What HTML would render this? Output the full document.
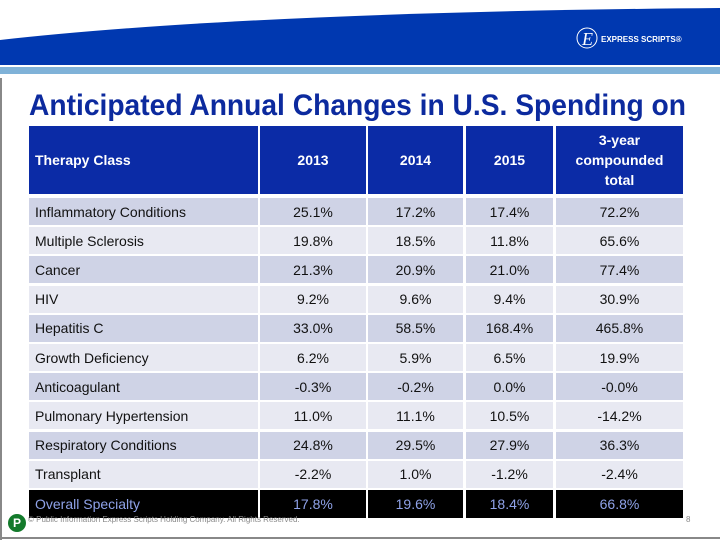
<!DOCTYPE html>
<html><head><meta charset="utf-8"><style>
body{margin:0;width:720px;height:540px;overflow:hidden;background:#fff;font-family:"Liberation Sans",sans-serif;position:relative}
.c{position:absolute;box-sizing:border-box;font-size:14px;color:#111;display:flex;align-items:center;white-space:nowrap}
.n{justify-content:center}
.h{background:#0b2ba6;color:#fff;font-weight:bold;font-size:14px;text-align:center;justify-content:center;white-space:normal;line-height:20px}
</style></head><body>
<svg width="720" height="80" style="position:absolute;left:0;top:0">
<path d="M0 40 Q250 12 720 8 L720 65 L0 65 Z" fill="#0038b0"/>
<rect x="0" y="67" width="720" height="7" fill="#7fb2d8"/>
<circle cx="587" cy="38" r="10" fill="none" stroke="#fff" stroke-width="1"/>
<text x="582" y="45" fill="#fff" font-size="18" font-style="italic" font-family="Liberation Serif">E</text>
<text x="601" y="42" fill="#fff" font-size="8" font-weight="bold">EXPRESS SCRIPTS®</text>
</svg>
<div style="position:absolute;left:0;top:78px;width:2px;height:462px;background:#888"></div>
<div style="position:absolute;left:0;top:537px;width:720px;height:2px;background:#888"></div>
<div style="position:absolute;left:29px;top:88px;font-size:30px;font-weight:bold;color:#0c2a9e;white-space:nowrap;line-height:36px;transform-origin:0 0;transform:scaleX(0.94)">Anticipated Annual Changes in U.S. Spending on</div>
<div id="t"></div>
<div style="position:absolute;left:28px;top:515px;font-size:8px;color:#888">© Public Information  Express Scripts Holding Company. All Rights Reserved.</div>
<div style="position:absolute;left:8px;top:514px;width:18px;height:18px;border-radius:9px;background:#137a2b;color:#fff;font-weight:bold;font-size:12px;text-align:center;line-height:18px">P</div>
<div style="position:absolute;left:686px;top:515px;font-size:8px;color:#888">8</div>
<script>
const categories=["Inflammatory Conditions","Multiple Sclerosis","Cancer","HIV","Hepatitis C","Growth Deficiency","Anticoagulant","Pulmonary Hypertension","Respiratory Conditions","Transplant","Overall Specialty"];
const v2013=["25.1%","19.8%","21.3%","9.2%","33.0%","6.2%","-0.3%","11.0%","24.8%","-2.2%","17.8%"];
const v2014=["17.2%","18.5%","20.9%","9.6%","58.5%","5.9%","-0.2%","11.1%","29.5%","1.0%","19.6%"];
const v2015=["17.4%","11.8%","21.0%","9.4%","168.4%","6.5%","0.0%","10.5%","27.9%","-1.2%","18.4%"];
const vTotal=["72.2%","65.6%","77.4%","30.9%","465.8%","19.9%","-0.0%","-14.2%","36.3%","-2.4%","66.8%"];
const headers=["Therapy Class","2013","2014","2015","3-year compounded total"];
const cols=[[29,229],[260,106],[368,95],[466,87],[556,127]];
const T=document.getElementById('t');
function cell(x,y,w,h,txt,cls,bg,col){const d=document.createElement('div');d.className='c '+cls;d.style.cssText+=`left:${x}px;top:${y}px;width:${w}px;height:${h}px;background:${bg};`+(col?`color:${col};`:'');d.textContent=txt;T.appendChild(d);return d;}
headers.forEach((h,i)=>{const d=cell(cols[i][0],126,cols[i][1],68,h,'h','#0b2ba6');


if(i==0){d.style.justifyContent='flex-start';d.style.paddingLeft='6px';}
if(i==4){d.style.padding='0 18px';}});
categories.forEach((c,r)=>{const y=198+r*29.2;const last=r==categories.length-1;
const bg=last?'#000':(r%2==0?'#cfd3e6':'#e8e9f2');const col=last?'#8fa2e8':null;
const vals=[c,v2013[r],v2014[r],v2015[r],vTotal[r]];
vals.forEach((v,i)=>{const d=cell(cols[i][0],y,cols[i][1],last?28:27,v,i?'n':'',bg,col);


if(i==0)d.style.paddingLeft='6px';});});
</script>
</body></html>
